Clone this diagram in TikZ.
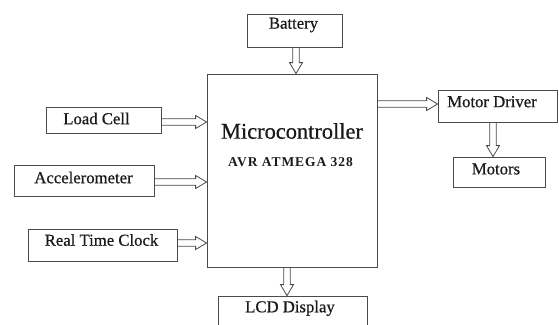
\documentclass[tikz,border=0pt]{standalone}
\usepackage{fontspec}
\setmainfont{Liberation Serif}
\newfontfamily\heavyserif{Liberation Serif}[FakeBold=0.6]
\newfontfamily\avrfont{Liberation Serif}[LetterSpace=7]
\usetikzlibrary{calc}
\definecolor{edge}{HTML}{4A4A4A}
\definecolor{ink}{HTML}{1A1A1A}
\begin{document}
\begin{tikzpicture}[x=1pt,y=-1pt,
  box/.style={draw=edge, line width=0.8pt, rectangle, inner sep=0pt},
  lbl/.style={text=ink, font=\heavyserif\fontsize{16.7}{18}\selectfont},
  harrow/.style={draw=edge, line width=0.8pt, line join=miter, to path={
    let \p1=(\tikztostart), \p2=(\tikztotarget),
        \n1={atan2(\y2-\y1,\x2-\x1)}, \n2={veclen(\x2-\x1,\y2-\y1)} in
    {[shift={(\p1)}, rotate=\n1]
      (0pt,3.3pt) -- ({\n2*1pt-11pt},3.3pt) -- ({\n2*1pt-11pt},6.5pt) -- ({\n2*1pt},0pt)
      -- ({\n2*1pt-11pt},-6.5pt) -- ({\n2*1pt-11pt},-3.3pt) -- (0pt,-3.3pt)}
  }}]
\useasboundingbox (0,0) rectangle (559,324);
\clip (0,0) rectangle (559,324);
% boxes
\node[box, minimum width=95pt, minimum height=33pt,
  label={[lbl, xshift=-1pt, yshift=5.5pt]center:Battery}] (bat) at (294.5,30.5) {};
\node[box, minimum width=170pt, minimum height=193pt,
  label={[text=ink, font=\heavyserif\fontsize{22.4}{24}\selectfont, yshift=39.5pt]center:Microcontroller},
  label={[text=ink, font=\avrfont\bfseries\fontsize{13.5}{16}\selectfont, xshift=-1.5pt, yshift=8.5pt]center:AVR ATMEGA 328}] (mcu) at (292,170.5) {};
\node[box, minimum width=115pt, minimum height=26pt,
  label={[lbl, xshift=-7pt, yshift=1.5pt]center:Load Cell}] (lc) at (103.5,120) {};
\node[box, minimum width=140pt, minimum height=31pt,
  label={[lbl, xshift=-0.5pt, yshift=3pt]center:Accelerometer}] (acc) at (84,180.5) {};
\node[box, minimum width=149pt, minimum height=32pt,
  label={[lbl, xshift=-1pt, yshift=5pt]center:Real Time Clock}] (rtc) at (102.5,245) {};
\node[box, minimum width=149pt, minimum height=32pt,
  label={[lbl, xshift=-2.5pt, yshift=3.7pt]center:LCD Display}] (lcd) at (292.5,312) {};
\node[box, minimum width=119pt, minimum height=32pt,
  label={[lbl, xshift=-5.5pt, yshift=4.3pt]center:Motor Driver}] (md) at (497.5,106) {};
\node[box, minimum width=92pt, minimum height=30pt,
  label={[lbl, xshift=-3pt, yshift=3pt]center:Motors}] (mot) at (499,172) {};
% connectors
\draw[harrow] (bat.south -| 296,0) to (mcu.north -| 296,0);
\draw[harrow] (lc.east |- 0,122) to (mcu.west |- 0,122);
\draw[harrow] (acc.east |- 0,182) to (mcu.west |- 0,182);
\draw[harrow] (rtc.east |- 0,243) to (mcu.west |- 0,243);
\draw[harrow] (mcu.south -| 287,0) to (lcd.north -| 287,0);
\draw[harrow] (mcu.east |- 0,104) to (md.west |- 0,104);
\draw[harrow] (md.south -| 493,0) to (mot.north -| 493,0);
\end{tikzpicture}
\end{document}
